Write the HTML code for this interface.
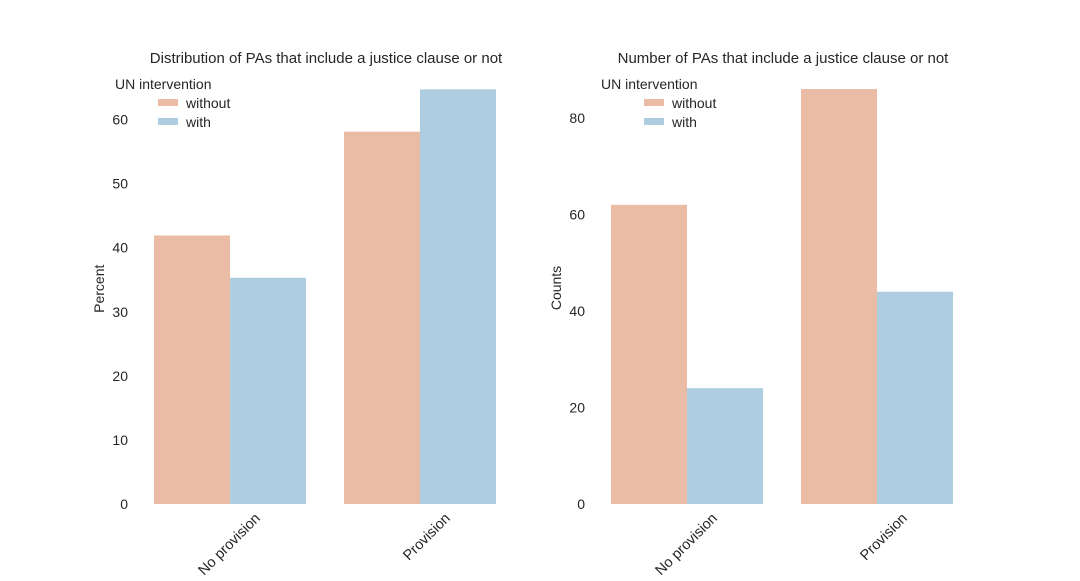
<!DOCTYPE html>
<html><head><meta charset="utf-8"><style>
body{margin:0;background:#fff;}
svg text{font-family:"Liberation Sans",sans-serif;fill:#262626;}
</style></head><body>
<svg id="chart" width="1080" height="576"></svg>
<script>
const categories=["No provision","Provision"];
const seriesNames=["without","with"];
const percentWithout=[41.9,58.1];
const percentWith=[35.3,64.7];
const countWithout=[62,86];
const countWith=[24,44];
const percentTicks=[0,10,20,30,40,50,60];
const countTicks=[0,20,40,60,80];
const colors=["#eabba5","#afcde0"];
const svg=document.getElementById('chart');
const NS="http://www.w3.org/2000/svg";
function mk(t,a,txt){const e=document.createElementNS(NS,t);for(const k in a)e.setAttribute(k,a[k]);if(txt!==undefined)e.textContent=txt;svg.appendChild(e);return e;}
function panel(x0,x1,y0,yTop,maxV,vals,ticks,title,ylab,pfx,legX){
  const ys=v=>y0-(v/maxV)*(y0-yTop);
  const step=(x1-x0)/categories.length;
  const xc=i=>x0+step*(i+0.5);
  const bw=step*0.4;
  const t=mk('text',{x:(x0+x1)/2+1,y:63,'text-anchor':'middle','font-size':15},title);
  
  const yl=mk('text',{x:0,y:0,'text-anchor':'middle','font-size':14,transform:`translate(${x0-31},${(y0+yTop)/2-23}) rotate(-90)`},ylab);
  
  ticks.forEach(v=>{const e=mk('text',{x:x0-7,y:ys(v)+5,'text-anchor':'end','font-size':14},String(v));
    });
  vals.forEach((arr,s)=>arr.forEach((v,i)=>{
    const r=mk('rect',{x:xc(i)-bw+s*bw,y:ys(v),width:bw,height:y0-ys(v),fill:colors[s]});
    
  }));
  categories.forEach((c,i)=>{const e=mk('text',{x:0,y:0,'text-anchor':'end','font-size':14.5,transform:`translate(${xc(i)+31},${y0+15}) rotate(-45)`},c);
    });
  const lt=mk('text',{x:legX,y:89,'font-size':14},'UN intervention');
  
  seriesNames.forEach((n,s)=>{
    const r=mk('rect',{x:legX+43,y:99+s*19,width:20,height:7,fill:colors[s]});
    
    const e=mk('text',{x:legX+71,y:108+s*19,'font-size':14},n);
    
  });
}
panel(135,515,504,119.5,60,[percentWithout,percentWith],percentTicks,'Distribution of PAs that include a justice clause or not','Percent','left',115);
panel(592,972,504,118,80,[countWithout,countWith],countTicks,'Number of PAs that include a justice clause or not','Counts','right',601);
</script>
</body></html>
